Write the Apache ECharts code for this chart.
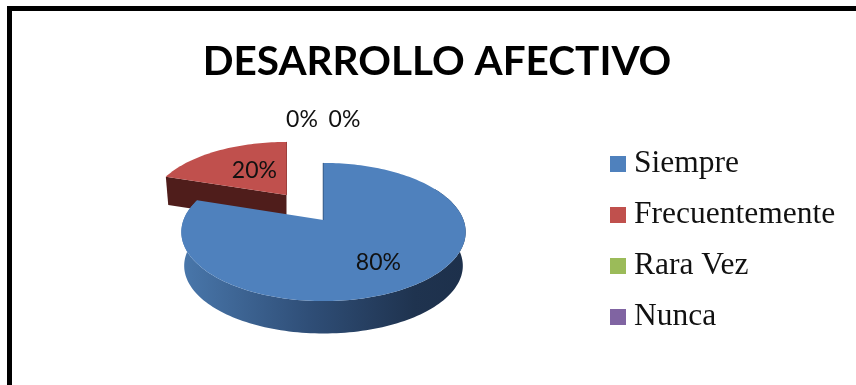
<!DOCTYPE html>
<html>
<head>
<meta charset="utf-8">
<style>html,body{margin:0;padding:0;background:#fff}#chart{width:856px;height:385px}</style>
<script src="https://cdn.jsdelivr.net/npm/echarts@6/dist/echarts.min.js"></script>
</head>
<body>
<div id="chart"></div>
<script>
const titleText = 'DESARROLLO AFECTIVO';
const categories = ['Siempre', 'Frecuentemente', 'Rara Vez', 'Nunca'];
const values = [80, 20, 0, 0];
const colors = ['#4F81BD', '#C0504D', '#9BBB59', '#8064A2'];

// Tilted pie geometry: a perspective projection of the unit disc.
const pie = { cx: 323.5, cy: 220, a: 140, b: 67, k: 0.174, baseScale: 0.98 };
// Per-slice pull-out and size, plus where each percentage label sits.
const sliceLayout = [
  { dx: 0, dy: 0, sx: 1, sy: 1, depth: 34, labelR: 0.7, labelDx: -9, labelDy: 0 },
  { dx: -37, dy: -25, sx: 0.955, sy: 0.93, depth: 28, labelR: 0.55, labelDx: 8, labelDy: 1 },
  { dx: 0, dy: 0, sx: 1, sy: 1, depth: 0, labelR: 1, labelDx: -21.5, labelDy: -43 },
  { dx: 0, dy: 0, sx: 1, sy: 1, depth: 0, labelR: 1, labelDx: 21, labelDy: -43 }
];
const total = values.reduce((s, v) => s + v, 0);

function project(deg, r, slice, drop, shrink) {
  const t = deg * Math.PI / 180;
  const s = Math.sin(t) * r, c = Math.cos(t) * r;
  const w = 1 + pie.k * c;
  return [
    pie.cx + slice.dx + pie.a * slice.sx * shrink * s / w,
    pie.cy + slice.dy + drop - pie.b * slice.sy * shrink * c / w
  ];
}

function arc(from, to, slice, drop, shrink) {
  const pts = [];
  for (let d = from; d <= to + 1e-6; d += 1.5) pts.push(project(d, 1, slice, drop, shrink));
  return pts;
}

function renderSlice(params) {
  const i = params.seriesIndex;
  const slice = sliceLayout[i];
  const start = values.slice(0, i).reduce((s, v) => s + v, 0) / total * 360;
  const sweep = values[i] / total * 360;
  const end = start + sweep;
  const children = [];

  if (sweep > 0) {
    const apex = project(0, 0, slice, 0, 1);
    const top = [apex].concat(arc(start, end, slice, 0, 1));
    const bandFrom = Math.max(start, 60), bandTo = Math.min(end, 300);
    if (i === 0) {
      // Outer rim, shaded from the lit left side to the dark right side.
      const upper = arc(bandFrom, bandTo, slice, 0, 1);
      const lower = arc(bandFrom, bandTo, slice, slice.depth, pie.baseScale).reverse();
      children.push({
        type: 'polygon',
        shape: { points: upper.concat(lower) },
        style: {
          fill: new echarts.graphic.LinearGradient(1, 0, 0, 0, [
            { offset: 0, color: '#1d304b' },
            { offset: 0.18, color: '#1f334f' },
            { offset: 0.55, color: '#2f4e77' },
            { offset: 1, color: '#4977ab' }
          ])
        }
      });
      // Thin cut face along the start edge.
      children.push({
        type: 'polyline',
        shape: { points: [project(start, 1, slice, 0, 1), apex] },
        style: { stroke: '#2c4a70', lineWidth: 1.5, fill: null }
      });
    } else {
      // Cut face of the pulled-out slice.
      const wall = [apex, project(start, 1, slice, 0, 1),
        project(start, 1, slice, slice.depth, pie.baseScale),
        project(0, 0, slice, slice.depth, pie.baseScale)];
      children.push({ type: 'polygon', shape: { points: wall }, style: { fill: '#4f1d1b' } });
      children.push({
        type: 'polyline',
        shape: { points: [project(end, 1, slice, 0, 1), apex] },
        style: { stroke: '#7d2f2d', lineWidth: 1, fill: null }
      });
    }
    children.push({ type: 'polygon', shape: { points: top }, style: { fill: colors[i] } });
  }

  const mid = start + sweep / 2;
  const at = project(mid, slice.labelR, slice, 0, 1);
  children.push({
    type: 'text',
    style: {
      text: Math.round(values[i] / total * 100) + '%',
      x: at[0] + slice.labelDx,
      y: at[1] + slice.labelDy,
      align: 'center',
      verticalAlign: 'middle',
      fill: '#111',
      font: '23px Lato'
    },
    z2: 10
  });
  return { type: 'group', children };
}

const chart = echarts.init(document.getElementById('chart'), null, { renderer: 'canvas' });
chart.setOption({
  animation: false,
  backgroundColor: '#fff',
  title: {
    text: titleText,
    left: 432,
    top: 36,
    textAlign: 'center',
    textStyle: { fontFamily: 'Lato', fontWeight: 'bold', fontSize: 40.5, color: '#000' }
  },
  legend: {
    orient: 'vertical',
    left: 605,
    top: 141,
    icon: 'rect',
    itemWidth: 16,
    itemHeight: 16,
    itemGap: 15,
    selectedMode: false,
    data: categories,
    textStyle: { fontFamily: 'Liberation Serif', fontSize: 31.5, color: '#111', padding: [4, 0, 0, 3], lineHeight: 32 }
  },
  graphic: [
    { type: 'rect', shape: { x: 7, y: 6, width: 849, height: 5 }, style: { fill: '#000' } },
    { type: 'rect', shape: { x: 7, y: 6, width: 5, height: 379 }, style: { fill: '#000' } }
  ],
  // One series per category so the legend lists all four, including the empty ones.
  series: categories.map((name, i) => ({
    type: 'custom',
    name,
    coordinateSystem: 'none',
    renderItem: renderSlice,
    data: [[values[i]]],
    itemStyle: { color: colors[i] },
    z: i === 1 ? 2 : (i === 0 ? 3 : 4),
    silent: true
  }))
});
</script>
</body>
</html>
